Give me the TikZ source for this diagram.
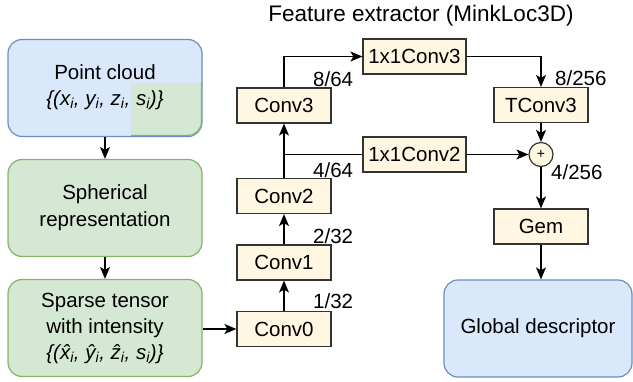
\documentclass[tikz,border=0pt]{standalone}
\usepackage{fontspec}
\setmainfont{Liberation Sans}
\usetikzlibrary{arrows.meta}

\definecolor{bluefill}{HTML}{DAE8FC}
\definecolor{bluedraw}{HTML}{6C8EBF}
\definecolor{greenfill}{HTML}{D5E8D4}
\definecolor{greendraw}{HTML}{82B366}
\definecolor{convfill}{HTML}{FFF7E1}

\tikzset{
  every node/.style={font=\fontsize{20.5}{26}\selectfont},
  stage/.style={draw=greendraw, fill=greenfill, rounded corners=14pt, line width=1.2pt,
    minimum width=194pt, minimum height=97pt, align=center, inner sep=0},
  result/.style={stage, draw=bluedraw, fill=bluefill},
  convbox/.style={draw=black!80, fill=convfill, line width=1.2pt,
    minimum width=94pt, minimum height=35pt, inner sep=0},
  size/.style={anchor=west, inner sep=0},
  arr/.style={-{Stealth[length=12pt,width=10pt,inset=3pt]}, line width=1.3pt},
  ln/.style={line width=1.3pt}
}

\begin{document}
\begin{tikzpicture}[x=1pt,y=-1pt]
    \useasboundingbox (0,0) rectangle (633,382);

    \node[font=\fontsize{22.5}{26}\selectfont] (title) at (421,16) {Feature extractor (MinkLoc3D)};

    % input side
    \node[result] (pc) at (105,88) {};
    \begin{scope}
        \clip[rounded corners=14pt] (8,40) rectangle (202,136);
        \fill[greenfill] (131,83) rectangle (210,140);
        \clip (131,83) rectangle (210,140);
        \draw[greendraw, line width=2.4pt, rounded corners=14pt] (8,40) rectangle (202,136);
    \end{scope}
    \node[align=center, inner sep=0] (pctext) at (105,87) {Point cloud\\
        \textit{\{(x\textsubscript{i}, y\textsubscript{i}, z\textsubscript{i}, s\textsubscript{i})\}}};
    \node[stage] (sph) at (105,208) {Spherical\\[1pt]representation};
    \node[stage] (spt) at (105,328) {Sparse tensor\\with intensity\\
        \textit{\{(\^{x}\textsubscript{i}, \^{y}\textsubscript{i}, \^{z}\textsubscript{i}, s\textsubscript{i})\}}};

    % backbone
    \node[convbox] (conv0) at (284,329) {Conv0};
    \node[convbox] (conv1) at (284,262.5) {Conv1};
    \node[convbox] (conv2) at (284,196) {Conv2};
    \node[convbox] (conv3) at (284,105.5) {Conv3};
    \node[convbox, minimum width=103pt] (lat3) at (414.5,56.5) {1x1Conv3};
    \node[convbox, minimum width=103pt] (lat2) at (414.5,154.5) {1x1Conv2};
    \node[convbox] (tconv3) at (541,105) {TConv3};
    \node[draw=black!80, fill=convfill, circle, line width=1.2pt, minimum size=24pt,
        inner sep=0, font=\fontsize{14}{14}\selectfont] (plus) at (541,154.5) {+};
    \node[convbox] (gem) at (541,226.5) {Gem};
    \node[result, minimum width=188pt] (gd) at (538,328.5) {Global descriptor};

    \node[size] (s0) at (313,301) {1/32};
    \node[size] (s1) at (313,236) {2/32};
    \node[size] (s2) at (313,170) {4/64};
    \node[size] (s3) at (313,79) {8/64};
    \node[size] (s4) at (555,78) {8/256};
    \node[size] (s5) at (551,172) {4/256};

    \coordinate (split) at (284,154.5);

    \draw[arr] (pc) -- (sph);
    \draw[arr] (sph) -- (spt);
    \draw[arr] (spt.east |- conv0) -- (conv0);
    \draw[arr] (conv0) -- (conv1);
    \draw[arr] (conv1) -- (conv2);
    \draw[arr] (conv2) -- (conv3);
    \draw[ln] (split) -- (lat2);
    \draw[arr] (conv3.north) |- (lat3.west);
    \draw[arr] (lat3.east) -| (tconv3.north);
    \draw[arr] (tconv3) -- (plus);
    \draw[arr] (lat2) -- (plus);
    \draw[arr] (plus) -- (gem);
    \draw[arr] (gem.south) -- (gem.south |- gd.north);
\end{tikzpicture}
\end{document}
